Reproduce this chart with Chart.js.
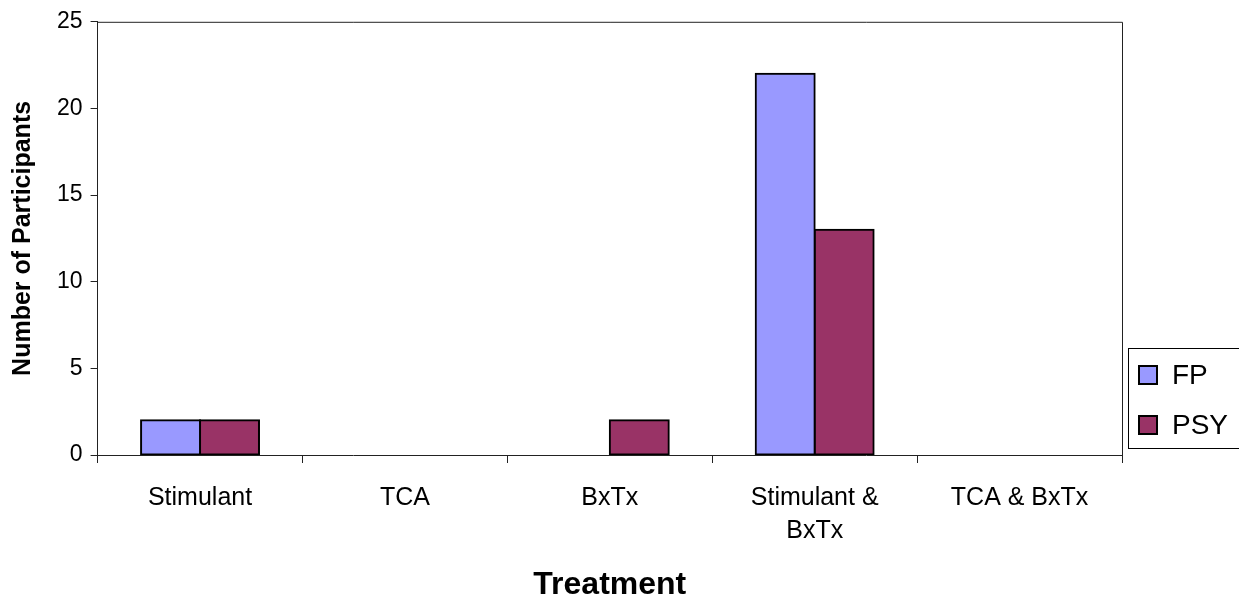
<!DOCTYPE html>
<html>
<head>
<meta charset="utf-8">
<script src="https://cdn.jsdelivr.net/npm/chart.js@4/dist/chart.umd.min.js"></script>
<style>
  html, body { margin: 0; padding: 0; background: #fff; }
  #wrap { width: 1239px; height: 601px; position: relative; }
</style>
</head>
<body>
<div id="wrap"><canvas id="c" width="1239" height="601"></canvas></div>
<script>
// Treatment categories (multi-line where the label wraps)
const categories = ['Stimulant', 'TCA', 'BxTx', ['Stimulant &', 'BxTx'], 'TCA & BxTx'];
// Participants per treatment, by clinic type
const fpValues = [2, 0, 0, 22, 0];
const psyValues = [2, 0, 2, 13, 0];
const seriesNames = ['FP', 'PSY'];
const seriesColors = ['#9999FF', '#993366'];
const yTicks = [0, 5, 10, 15, 20, 25];

const FONT = '"Liberation Sans", Arial, sans-serif';

// Frame around the plot area (top and right edges)
const plotFrame = {
  id: 'plotFrame',
  afterDatasetsDraw(chart) {
    const { ctx, chartArea: a } = chart;
    ctx.save();
    ctx.strokeStyle = '#222';
    ctx.lineWidth = 1;
    ctx.beginPath();
    ctx.moveTo(a.left, a.top + 0.5);
    ctx.lineTo(a.right + 0.5, a.top + 0.5);
    ctx.lineTo(a.right + 0.5, a.bottom);
    ctx.stroke();
    ctx.restore();
  }
};

// Boxed legend placed just right of the plot area, near its bottom
const boxedLegend = {
  id: 'boxedLegend',
  afterDraw(chart) {
    const { ctx, chartArea: a } = chart;
    const left = a.right + 6;
    const bottom = a.bottom - 7;
    const h = 100;
    const top = bottom - h;
    ctx.save();
    ctx.strokeStyle = '#000';
    ctx.lineWidth = 1;
    ctx.strokeRect(left + 0.5, top + 0.5, 200, h);
    ctx.font = '28px ' + FONT;
    ctx.textBaseline = 'middle';
    chart.data.datasets.forEach((ds, i) => {
      const cy = top + 27 + i * 50;
      ctx.fillStyle = ds.backgroundColor;
      ctx.fillRect(left + 11, cy - 9, 18, 18);
      ctx.lineWidth = 2;
      ctx.strokeStyle = '#000';
      ctx.strokeRect(left + 11, cy - 9, 18, 18);
      ctx.fillStyle = '#000';
      ctx.fillText(ds.label, left + 44, cy + 1);
    });
    ctx.restore();
  }
};

new Chart(document.getElementById('c'), {
  type: 'bar',
  data: {
    labels: categories,
    datasets: [
      { label: seriesNames[0], data: fpValues, backgroundColor: seriesColors[0] },
      { label: seriesNames[1], data: psyValues, backgroundColor: seriesColors[1] }
    ]
  },
  options: {
    responsive: false,
    animation: false,
    devicePixelRatio: 1,
    layout: { padding: { top: 7, right: 117, left: 8, bottom: 0 } },
    datasets: {
      bar: {
        categoryPercentage: 0.5756,
        barPercentage: 1,
        borderColor: '#000',
        borderWidth: 2,
        borderSkipped: false,
        inflateAmount: 1
      }
    },
    plugins: {
      legend: { display: false },
      tooltip: { enabled: false }
    },
    scales: {
      x: {
        grid: { offset: true, drawOnChartArea: false, tickLength: 8, color: '#222' },
        border: { color: '#222', width: 1 },
        ticks: { color: '#000', font: { family: FONT, size: 25, lineHeight: 1.32 }, padding: 19, maxRotation: 0, autoSkip: false },
        title: { display: true, text: 'Treatment', color: '#000', font: { family: FONT, size: 32, weight: 'bold', lineHeight: 1.0 }, padding: { top: 2, bottom: 0 } }
      },
      y: {
        min: 0, max: 25,
        afterBuildTicks(scale) { scale.ticks = yTicks.map(v => ({ value: v })); },
        grid: { drawOnChartArea: false, tickLength: 7, color: '#222' },
        border: { color: '#222', width: 1 },
        ticks: { color: '#000', font: { family: FONT, size: 23 }, padding: 8 },
        title: { display: true, text: 'Number of Participants', color: '#000', font: { family: FONT, size: 25, weight: 'bold' }, padding: { top: 0, bottom: 11 } }
      }
    }
  },
  plugins: [plotFrame, boxedLegend]
});
</script>
</body>
</html>
